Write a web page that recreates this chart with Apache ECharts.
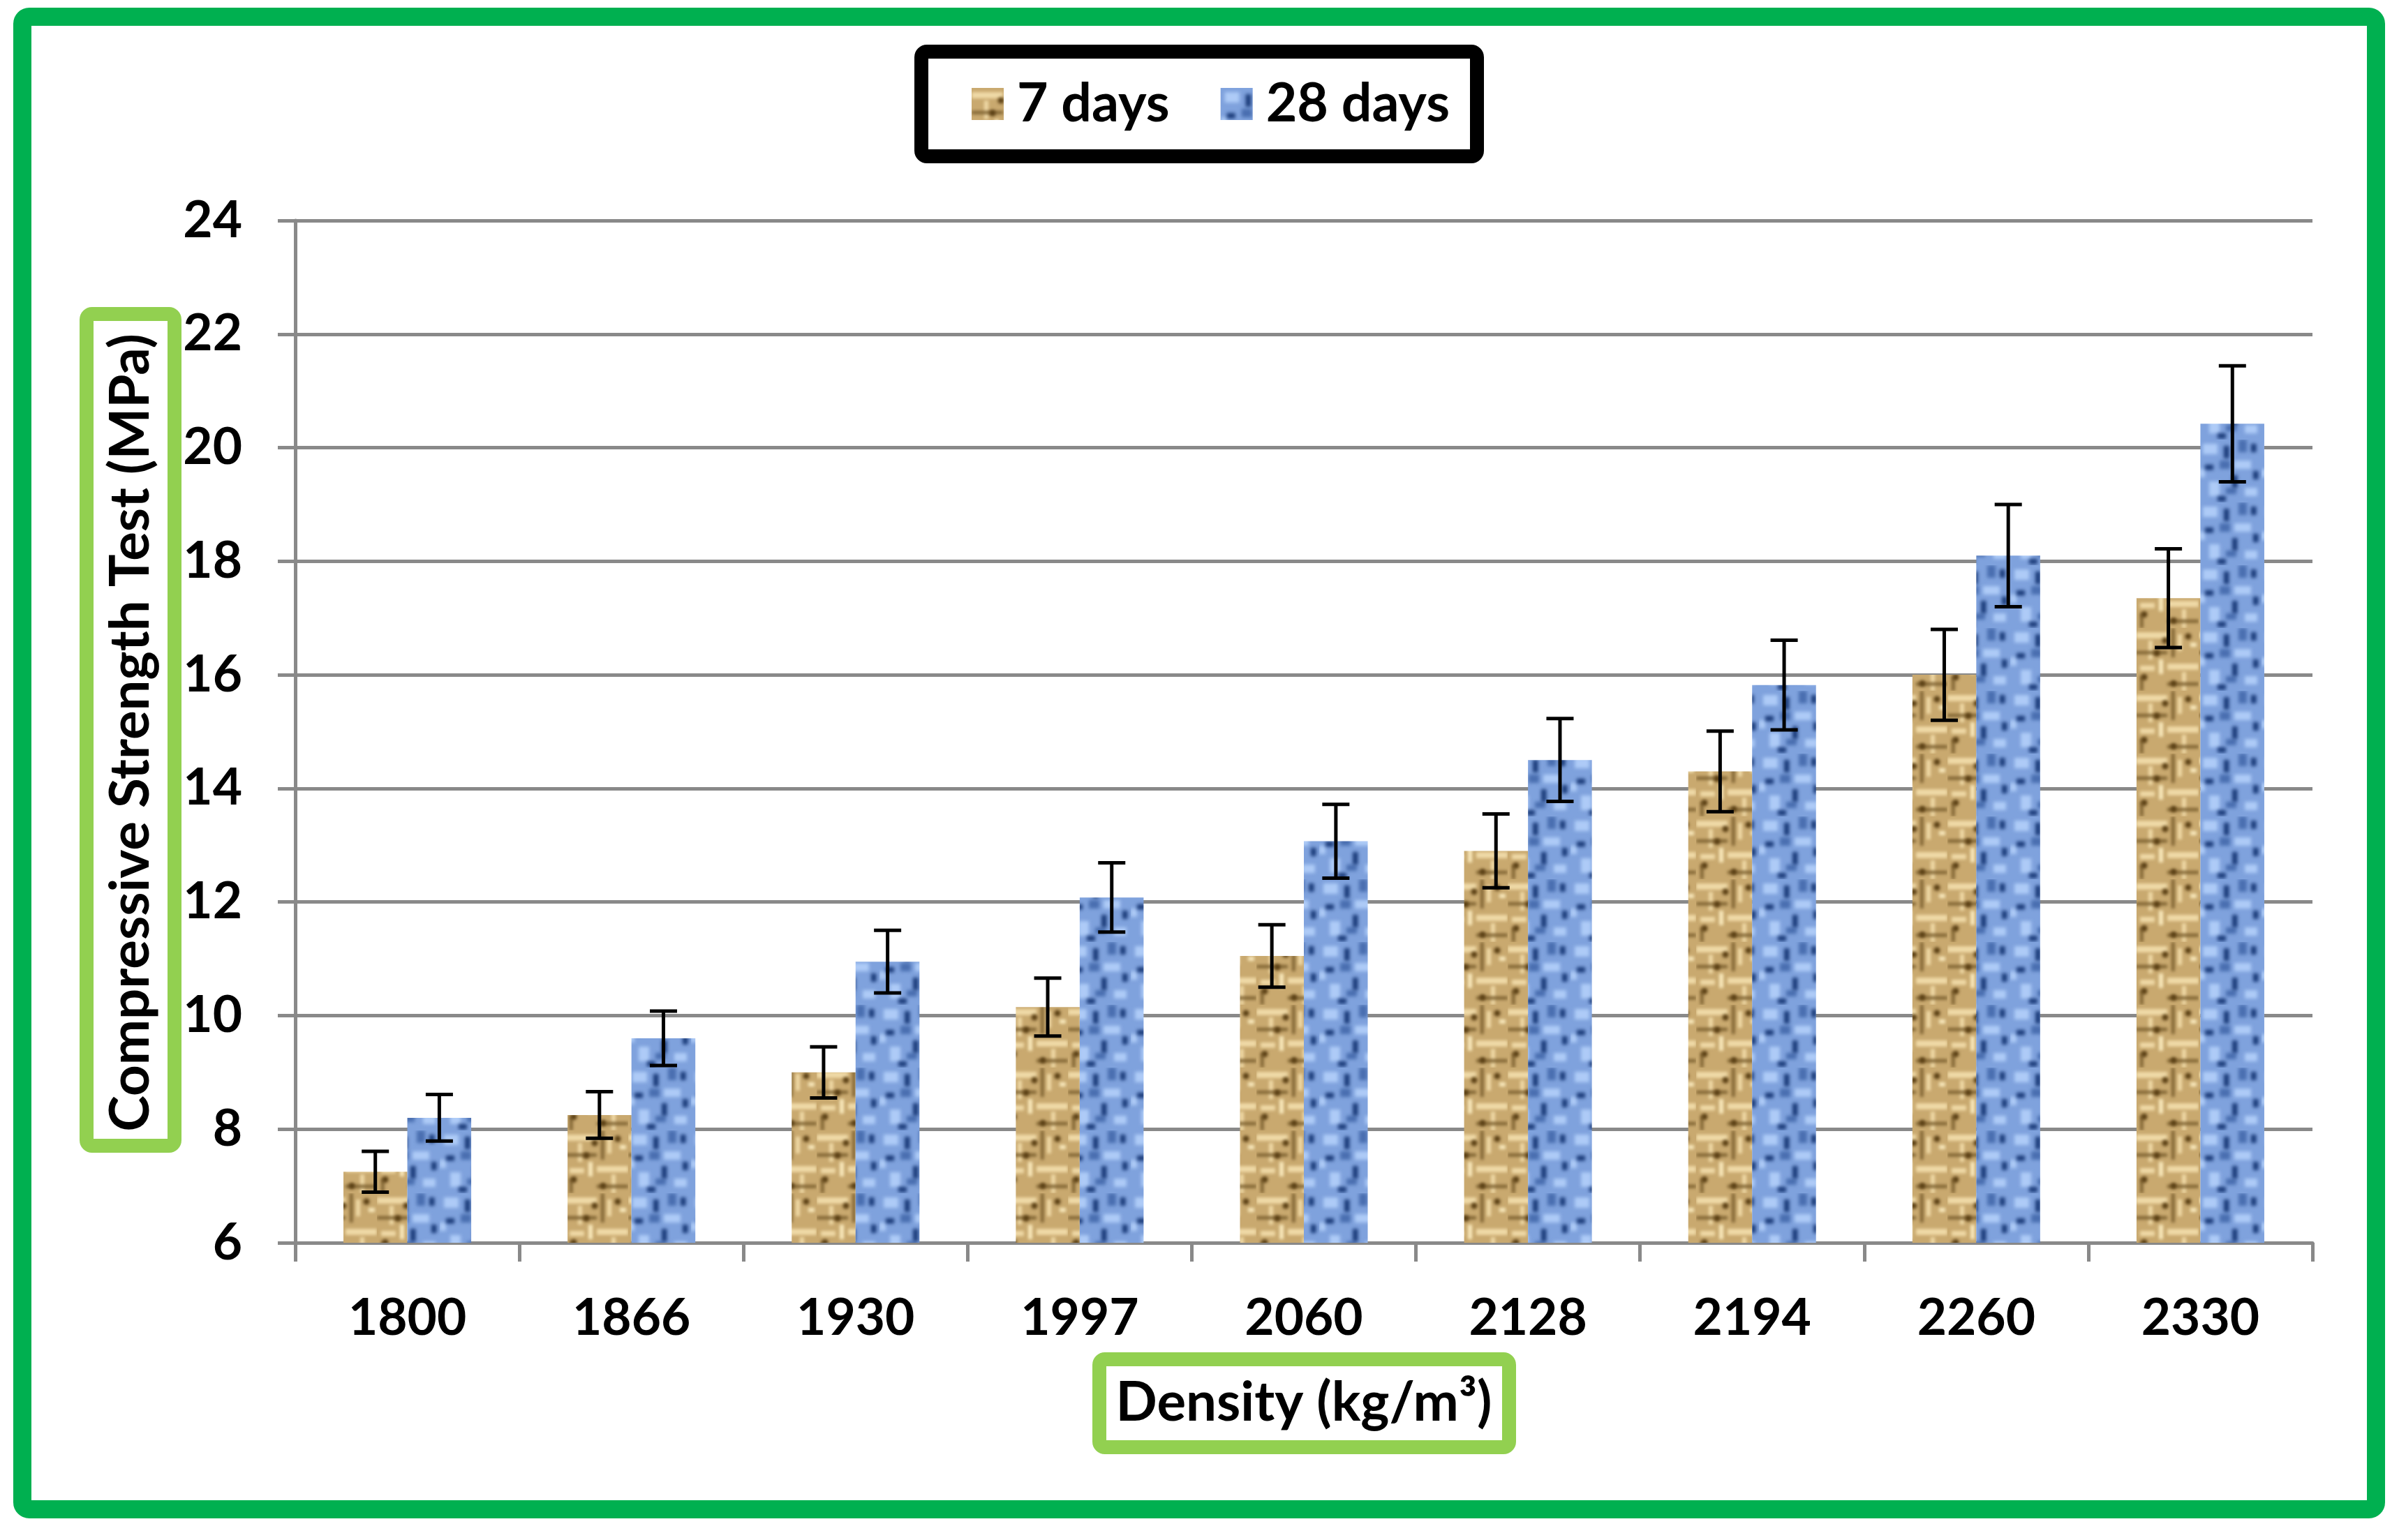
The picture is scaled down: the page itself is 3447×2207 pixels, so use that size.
<!DOCTYPE html>
<html>
<head>
<meta charset="utf-8">
<script src="https://cdn.jsdelivr.net/npm/echarts@6/dist/echarts.min.js"></script>
<style>
  html, body { margin: 0; padding: 0; background: #fff; }
  #chart { width: 3447px; height: 2207px; }
</style>
</head>
<body>
<div id="chart"></div>
<script>
// densities (kg/m3)
var densities = ['1800', '1866', '1930', '1997', '2060', '2128', '2194', '2260', '2330'];
// compressive strength (MPa)
var days7 = [7.25, 8.25, 9.0, 10.15, 11.05, 12.9, 14.3, 16.0, 17.35];
var days28 = [8.2, 9.6, 10.95, 12.08, 13.07, 14.5, 15.82, 18.1, 20.42];
// error bar half lengths
var err7 = [0.36, 0.41, 0.45, 0.51, 0.55, 0.65, 0.71, 0.8, 0.87];
var err28 = [0.41, 0.48, 0.55, 0.61, 0.65, 0.73, 0.79, 0.9, 1.02];

var FONT = 'Lato';
var TILE = 90;

// texture like the excel "woven" fill
function tanPattern() {
  var c = document.createElement('canvas');
  c.width = TILE; c.height = TILE;
  var g = c.getContext('2d');
  g.scale(TILE / 60, TILE / 60);
  g.fillStyle = '#C9A96F';
  g.fillRect(0, 0, 60, 60);
  g.filter = 'blur(2px)';
  g.fillStyle = '#EFD9A6';
  g.fillRect(0, 4, 30, 6);
  g.fillRect(30, 34, 30, 6);
  g.fillRect(12, 12, 4, 18);
  g.fillRect(44, 42, 4, 18);
  g.fillRect(40, 6, 4, 16);
  g.fillRect(4, 36, 14, 5);
  g.fillStyle = '#F8E9BC';
  g.fillRect(22, 30, 4, 14);
  g.fillRect(52, 14, 6, 4);
  g.fillStyle = '#7D6130';
  g.fillRect(0, 22, 30, 3);
  g.fillRect(30, 52, 30, 3);
  g.fillRect(34, 0, 3, 28);
  g.fillRect(4, 46, 3, 14);
  g.fillStyle = '#5A3F14';
  [[20, 24], [50, 8], [8, 47], [36, 53], [28, 12]].forEach(function (p) {
    g.beginPath();
    g.arc(p[0], p[1], 3, 0, Math.PI * 2);
    g.fill();
  });
  return c;
}

// texture like the excel "blue tissue" fill
function bluePattern() {
  var c = document.createElement('canvas');
  c.width = TILE; c.height = TILE;
  var g = c.getContext('2d');
  g.scale(TILE / 60, TILE / 60);
  g.fillStyle = '#7FA2DD';
  g.fillRect(0, 0, 60, 60);
  g.filter = 'blur(2.5px)';
  g.fillStyle = '#AECBF7';
  g.fillRect(4, 4, 14, 10);
  g.fillRect(34, 20, 16, 8);
  g.fillRect(10, 40, 10, 14);
  g.fillRect(44, 46, 12, 8);
  g.fillRect(0, 28, 6, 8);
  g.fillStyle = '#4A6FB0';
  g.fillRect(20, 20, 10, 8);
  g.fillRect(38, 0, 8, 12);
  g.fillRect(26, 46, 10, 6);
  g.fillStyle = '#1A3A78';
  g.fillRect(24, 6, 5, 12);
  g.fillRect(50, 4, 5, 8);
  g.fillRect(6, 24, 8, 5);
  g.fillRect(32, 34, 5, 12);
  g.fillRect(52, 30, 5, 8);
  g.fillRect(18, 54, 8, 5);
  return c;
}

var tanFill = { image: tanPattern(), repeat: 'repeat' };
var blueFill = { image: bluePattern(), repeat: 'repeat' };

// rows for the error bars: [category index, low, high]
function errRows(vals, errs) {
  return vals.map(function (v, i) { return [i, v - errs[i], v + errs[i]]; });
}

function errorBar(side) {
  return function (params, api) {
    var idx = api.value(0);
    var lo = api.coord([idx, api.value(1)]);
    var hi = api.coord([idx, api.value(2)]);
    var bw = api.size([1, 0])[0];
    var cx = lo[0] + side * bw * 0.1428;
    var half = 19.5;
    var st = { stroke: '#000', lineWidth: 5 };
    return {
      type: 'group',
      children: [
        { type: 'line', shape: { x1: cx, y1: hi[1], x2: cx, y2: lo[1] }, style: st },
        { type: 'line', shape: { x1: cx - half, y1: hi[1], x2: cx + half, y2: hi[1] }, style: st },
        { type: 'line', shape: { x1: cx - half, y1: lo[1], x2: cx + half, y2: lo[1] }, style: st }
      ]
    };
  };
}

var chart = echarts.init(document.getElementById('chart'));
var option = {
  backgroundColor: '#fff',
  animation: false,
  legend: {
    data: ['7 days', '28 days'],
    left: 1392,
    top: 109,
    padding: 0,
    itemWidth: 46,
    itemHeight: 46,
    itemGap: 73,
    selectedMode: false,
    icon: 'rect',
    textStyle: {
      fontFamily: FONT, fontWeight: 'bold', fontSize: 77, color: '#000',
      lineHeight: 80, padding: [0, 0, 0, 14]
    }
  },
  grid: { left: 423, right: 134, top: 316, bottom: 426, outerBoundsMode: 'none' },
  xAxis: {
    type: 'category',
    data: densities,
    axisLine: { lineStyle: { color: '#898989', width: 5 } },
    axisTick: { show: true, length: 27, lineStyle: { color: '#898989', width: 5 } },
    axisLabel: { margin: 72, fontFamily: FONT, fontWeight: 'bold', fontSize: 73, color: '#000' }
  },
  yAxis: {
    type: 'value',
    min: 6,
    max: 24,
    interval: 2,
    axisLine: { show: true, lineStyle: { color: '#898989', width: 5 } },
    axisTick: { show: true, length: 25, lineStyle: { color: '#898989', width: 5 } },
    splitLine: { lineStyle: { color: '#898989', width: 5 } },
    axisLabel: { margin: 76, fontFamily: FONT, fontWeight: 'bold', fontSize: 73, color: '#000' }
  },
  series: [
    {
      name: '7 days', type: 'bar', data: days7,
      barGap: '0%', barCategoryGap: '43%',
      itemStyle: { color: tanFill }
    },
    {
      name: '28 days', type: 'bar', data: days28,
      barGap: '0%', barCategoryGap: '43%',
      itemStyle: { color: blueFill }
    },
    {
      name: 'err7', type: 'custom', z: 5,
      renderItem: errorBar(-1),
      encode: { x: 0, y: [1, 2] },
      data: errRows(days7, err7)
    },
    {
      name: 'err28', type: 'custom', z: 5,
      renderItem: errorBar(1),
      encode: { x: 0, y: [1, 2] },
      data: errRows(days28, err28)
    }
  ],
  graphic: [
    // outer green frame
    { type: 'rect', z: 100, shape: { x: 32, y: 24, width: 3372, height: 2139, r: 10 },
      style: { fill: null, stroke: '#00B050', lineWidth: 26 } },
    // legend frame
    { type: 'rect', z: 100, shape: { x: 1320, y: 74, width: 796, height: 150, r: 8 },
      style: { fill: null, stroke: '#000', lineWidth: 20 } },
    // y axis title box
    { type: 'rect', z: 100, shape: { x: 124, y: 450, width: 126, height: 1192, r: 8 },
      style: { fill: null, stroke: '#92D050', lineWidth: 20 } },
    { type: 'text', z: 100, x: 188, y: 1050, rotation: Math.PI / 2,
      style: { text: 'Compressive Strength Test (MPa)', fill: '#000',
        font: 'bold 78px ' + FONT, align: 'center', verticalAlign: 'middle' } },
    // x axis title box
    { type: 'rect', z: 100, shape: { x: 1575, y: 1948, width: 587, height: 126, r: 8 },
      style: { fill: null, stroke: '#92D050', lineWidth: 20 } },
    { type: 'text', z: 100, x: 1868, y: 2011,
      style: { text: 'Density (kg/m³)', fill: '#000',
        font: 'bold 78px ' + FONT, align: 'center', verticalAlign: 'middle' } }
  ]
};
chart.setOption(option);
</script>
</body>
</html>
